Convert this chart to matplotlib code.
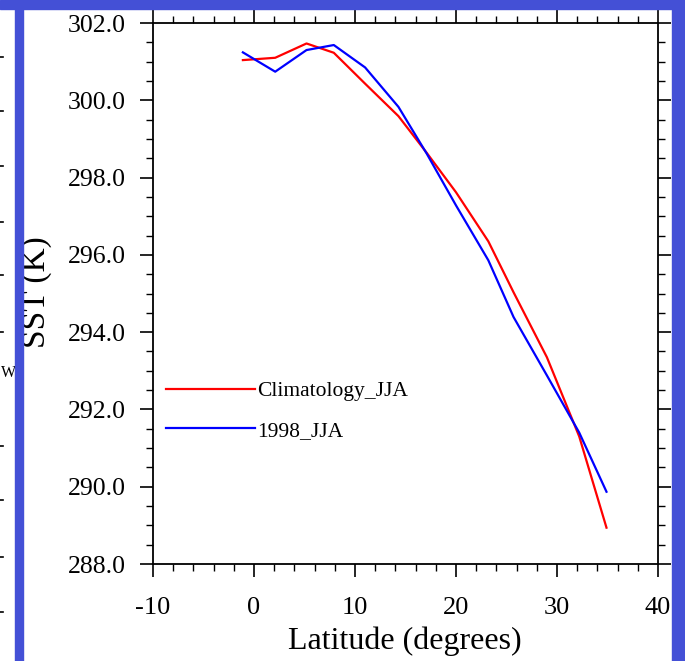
import matplotlib
matplotlib.use("Agg")
import matplotlib.pyplot as plt
from matplotlib.patches import Rectangle
from matplotlib.lines import Line2D
from matplotlib.ticker import MultipleLocator, FormatStrFormatter

# ---- data ----
lat = [-1.1, 2.1, 5.2, 7.9, 11.0, 14.3, 17.1, 20.0, 23.2, 25.7, 29.0, 32.2, 34.9]
clim_jja = [301.04, 301.10, 301.47, 301.23, 300.43, 299.59, 298.64, 297.62,
            296.35, 295.03, 293.35, 291.30, 288.94]
jja_1998 = [301.24, 300.74, 301.30, 301.43, 300.85, 299.83, 298.62, 297.28,
            295.86, 294.39, 292.88, 291.40, 289.87]
series_labels = ["Climatology_JJA", "1998_JJA"]
x_ticks = [-10, 0, 10, 20, 30, 40]
y_ticks = [288.0, 290.0, 292.0, 294.0, 296.0, 298.0, 300.0, 302.0]

plt.rcParams['font.family'] = ['Liberation Serif', 'DejaVu Serif']
plt.rcParams['axes.unicode_minus'] = False

W, H = 685, 661
fig = plt.figure(figsize=(W / 100, H / 100), dpi=100)
fig.patch.set_facecolor('white')

L, R, T, B = 153, 658, 23, 564
ax = fig.add_axes([L / W, 1 - B / H, (R - L) / W, (B - T) / H])

ax.plot(lat, clim_jja, color='#ff0000', lw=1.6, label=series_labels[0])
ax.plot(lat, jja_1998, color='#0000ff', lw=1.6, label=series_labels[1])

ax.set_xlim(-10, 40)
ax.set_ylim(288, 302)
ax.set_xticks(x_ticks)
ax.set_yticks(y_ticks)
ax.xaxis.set_minor_locator(MultipleLocator(2))
ax.yaxis.set_minor_locator(MultipleLocator(0.5))
ax.yaxis.set_major_formatter(FormatStrFormatter('%.1f'))
ax.xaxis.set_major_formatter(FormatStrFormatter('%d'))

for s in ax.spines.values():
    s.set_linewidth(1.3)
    s.set_color('black')

ax.tick_params(which='both', direction='out', top=True, right=True,
               labeltop=False, labelright=False, color='black')
ax.tick_params(which='major', length=9.5, width=1.2)
ax.tick_params(which='minor', length=4.8, width=1.0)
ax.tick_params(axis='y', which='major', labelsize=18.5, pad=10)
ax.tick_params(axis='x', which='major', labelsize=19, pad=14)

ax.set_xlabel('Latitude (degrees)', fontsize=23)
ax.xaxis.set_label_coords((405 - L) / (R - L), (B - 641) / (B - T))
ax.xaxis.label.set_va('center')
ax.set_ylabel('SST (K)', fontsize=24)
ax.yaxis.set_label_coords((36.5 - L) / (R - L), 0.502)
ax.yaxis.label.set_va('center')

leg = ax.legend(loc='center left',
                bbox_to_anchor=((165.7 - L) / (R - L), (B - 411) / (B - T)),
                frameon=False, fontsize=15.5, handlelength=4.15,
                handletextpad=0.12, borderpad=0, borderaxespad=0,
                labelspacing=0.9)

# remnants of a neighbouring panel at the far left
for yy in [57, 111, 166, 222, 275, 332, 446, 500, 557, 612]:
    fig.add_artist(Line2D([0, 3 / W], [1 - yy / H, 1 - yy / H],
                          transform=fig.transFigure, color='black', lw=1.2))
fig.text(0.5 / W, 1 - 373 / H, 'W', ha='left', va='center', fontsize=11.5)

# blue frame bands
blue = '#4450d6'
fig.add_artist(Rectangle((0, 1 - 9 / H), 1, 9 / H, transform=fig.transFigure,
                         color=blue, zorder=10))
fig.add_artist(Rectangle((15 / W, 0), 8 / W, 1, transform=fig.transFigure,
                         color=blue, zorder=10))
fig.add_artist(Rectangle((672 / W, 0), 13 / W, 1, transform=fig.transFigure,
                         color=blue, zorder=10))

fig.savefig('out.png', dpi=100)
